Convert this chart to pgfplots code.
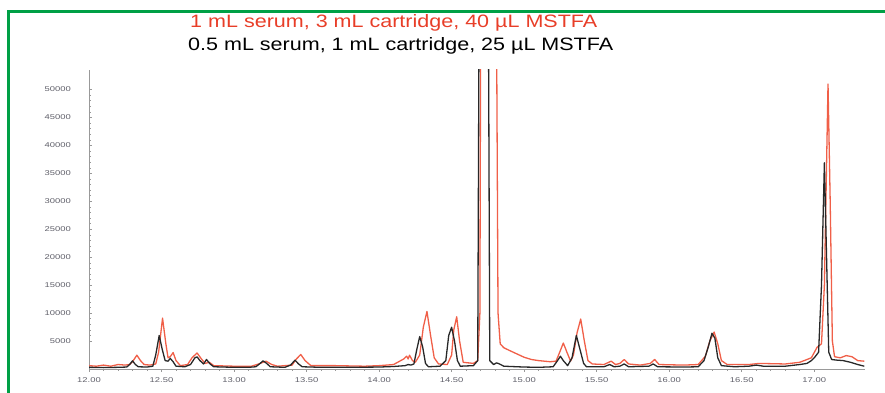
\documentclass[border=0pt]{standalone}
\usepackage{pgfplots}
\pgfplotsset{compat=1.18}
\usepackage{fontspec}
\setmainfont{Liberation Sans}
\definecolor{frame}{RGB}{0,160,70}
\definecolor{redline}{RGB}{240,95,72}
\definecolor{redtext}{RGB}{232,62,40}
\definecolor{blkline}{RGB}{40,40,40}
\definecolor{tickgray}{RGB}{95,95,105}
\begin{document}
\begin{tikzpicture}
\path[use as bounding box] (0,0) rectangle (885bp,393bp);
\draw[frame, line width=2.2bp] (8.5bp,0) -- (8.5bp,381.5bp) -- (885bp,381.5bp);
\node[anchor=base west, inner sep=0, text=redtext, xscale=1.2] at (190bp,365bp) {\fontsize{18}{20}\selectfont 1 mL serum, 3 mL cartridge, 40 µL MSTFA};
\node[anchor=base west, inner sep=0, text=black, xscale=1.2] at (188bp,342bp) {\fontsize{18}{20}\selectfont 0.5 mL serum, 1 mL cartridge, 25 µL MSTFA};
\begin{axis}[
  at={(89bp,24bp)}, anchor=south west,
  scale only axis, width=776bp, height=299bp,
  xmin=12, xmax=17.35, ymin=0, ymax=53500,
  axis lines=left, axis line style={draw=gray!80, -, line width=0.8bp},
  xtick={12,12.5,...,17}, minor x tick num=4,
  ytick={5000,10000,...,50000}, minor y tick num=4,
  tick style={gray!80, line width=0.6bp},
  major tick length=3bp, minor tick length=2bp,
  xtick align=outside, ytick align=inside,
  /pgf/number format/assume math mode=true,
  xticklabel style={font=\fontsize{7}{8}\selectfont, text=tickgray, xscale=1.35, yshift=-2bp, /pgf/number format/.cd, fixed, fixed zerofill, precision=2},
  yticklabel style={font=\fontsize{7}{8}\selectfont, text=tickgray, xscale=1.35, xshift=-10bp, /pgf/number format/.cd, fixed, set thousands separator={}},
  scaled y ticks=false,
]
\addplot[redline, line width=1.3bp, line join=round] coordinates {
(12.00,600) (12.05,500) (12.10,700) (12.15,500) (12.20,800) (12.25,700) (12.28,800)
(12.30,1300) (12.33,2470) (12.355,1500) (12.38,800) (12.42,700) (12.46,900)
(12.48,3000) (12.507,9100) (12.53,4500) (12.545,2000) (12.56,2200) (12.58,2940)
(12.60,1500) (12.63,600) (12.68,800) (12.71,2000) (12.745,2870) (12.775,1800)
(12.80,1000) (12.83,1200) (12.86,600) (13.00,500) (13.12,500) (13.17,900)
(13.22,1400) (13.26,800) (13.30,500) (13.40,700) (13.43,1800) (13.46,2590)
(13.49,1500) (13.53,600) (13.70,600) (13.90,500) (14.00,600) (14.10,800)
(14.17,1800) (14.19,2300) (14.20,1800) (14.21,2470) (14.23,1500) (14.25,1200)
(14.28,2500) (14.305,7500) (14.33,10300) (14.355,6000) (14.38,2000) (14.41,900)
(14.47,800) (14.50,2500) (14.515,7000) (14.535,9350) (14.555,5000) (14.58,1200)
(14.65,1000) (14.68,1500) (14.695,10000) (14.70,60000) (14.75,500000)
(14.81,60000) (14.82,10000) (14.835,4500) (14.86,3800) (14.90,3300)
(14.95,2700) (15.00,2100) (15.05,1700) (15.10,1500) (15.18,1300) (15.22,1400)
(15.245,3000) (15.27,4640) (15.295,3000) (15.32,1400) (15.34,2500) (15.365,6500)
(15.39,8940) (15.415,5000) (15.44,1500) (15.47,900) (15.55,800) (15.60,1400)
(15.63,800) (15.66,1000) (15.69,1700) (15.72,900) (15.80,700) (15.87,1000)
(15.90,1700) (15.93,800) (16.10,700) (16.20,800) (16.25,2300) (16.28,5000)
(16.31,6600) (16.335,4500) (16.36,1500) (16.40,800) (16.55,800) (16.62,1000)
(16.80,900) (16.90,1200) (16.98,2000) (17.02,3900) (17.05,4500) (17.07,15000)
(17.095,51000) (17.11,30000) (17.125,5000) (17.14,2200) (17.18,2000)
(17.22,2400) (17.26,2200) (17.30,1500) (17.345,1400)
};
\addplot[blkline, line width=1.3bp, line join=round] coordinates {
(12.00,300) (12.10,250) (12.20,300) (12.26,350) (12.28,800) (12.30,1460)
(12.32,800) (12.34,400) (12.40,350) (12.44,500) (12.46,2500) (12.484,6000)
(12.505,3500) (12.525,1500) (12.545,1400) (12.56,1900) (12.58,1300) (12.60,500)
(12.66,400) (12.70,800) (12.73,2000) (12.745,2170) (12.765,1500) (12.79,900)
(12.81,1700) (12.835,900) (12.86,400) (13.00,300) (13.10,300) (13.15,400)
(13.18,1000) (13.20,1460) (13.225,1000) (13.25,400) (13.35,300) (13.39,700)
(13.42,1580) (13.445,900) (13.47,400) (13.60,300) (13.80,300) (14.00,350)
(14.10,450) (14.18,600) (14.20,800) (14.22,700) (14.24,900) (14.26,3500)
(14.28,5800) (14.30,4000) (14.32,1000) (14.34,400) (14.42,500) (14.46,1500)
(14.48,6000) (14.50,7470) (14.52,5000) (14.54,1500) (14.56,500) (14.65,600)
(14.68,1500) (14.688,55000) (14.72,500000) (14.755,55000) (14.763,1500)
(14.79,800) (14.81,1100) (14.83,900) (14.86,500) (15.00,350) (15.10,300)
(15.20,400) (15.23,1500) (15.25,2290) (15.27,1500) (15.30,600) (15.33,2000)
(15.36,6000) (15.385,3500) (15.41,1000) (15.43,400) (15.55,400) (15.59,800)
(15.62,400) (15.66,500) (15.69,900) (15.72,400) (15.86,500) (15.89,900)
(15.92,400) (16.10,350) (16.20,400) (16.24,1500) (16.27,4000) (16.295,6400)
(16.315,5500) (16.335,2000) (16.36,600) (16.45,400) (16.55,500) (16.60,700)
(16.65,500) (16.80,500) (16.90,800) (16.95,1000) (16.98,1500) (17.00,2000)
(17.03,3000) (17.05,15000) (17.07,36900) (17.085,20000) (17.10,3000)
(17.12,1700) (17.15,1600) (17.20,1500) (17.25,1200) (17.30,800) (17.345,500)
};
\end{axis}
\end{tikzpicture}
\end{document}
